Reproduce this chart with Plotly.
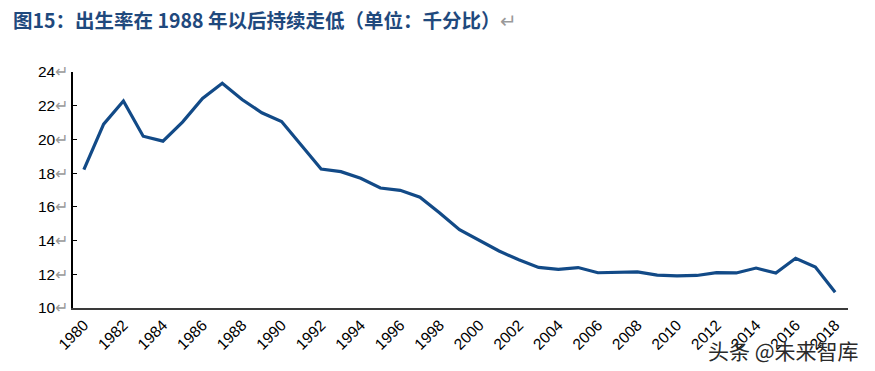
import plotly.graph_objects as go

years = list(range(1980, 2019))
birth_rate = [18.21, 20.91, 22.28, 20.19, 19.90, 21.04, 22.43, 23.33, 22.37, 21.58,
              21.06, 19.68, 18.24, 18.09, 17.70, 17.12, 16.98, 16.57, 15.64, 14.64,
              14.03, 13.38, 12.86, 12.41, 12.29, 12.40, 12.09, 12.10, 12.14, 11.95,
              11.90, 11.93, 12.10, 12.08, 12.37, 12.07, 12.95, 12.43, 10.94]

x_ticks = list(range(1980, 2019, 2))
x_ticklabels = [str(y) for y in x_ticks]
y_ticks = [10, 12, 14, 16, 18, 20, 22, 24]
y_ticklabels = [f"{v}<span style='color:#9a9a9a'>↵</span>" for v in y_ticks]

title_text = "图15：出生率在 1988 年以后持续走低（单位：千分比）<span style='color:#9a9a9a;font-weight:normal'>↵</span>"
watermark = "头条 @未来智库"

fig = go.Figure()
fig.add_trace(go.Scatter(
    x=years, y=birth_rate, mode="lines",
    line=dict(color="#124a87", width=3.2),
    hoverinfo="skip", showlegend=False,
))

L, R, T, B, W, H = 73, 27, 72, 63, 875, 371
pw = W - L - R
ph = H - T - B

def px(x):
    return (x - L) / pw

def py(y):
    return (H - B - y) / ph

fig.update_layout(
    width=W, height=H,
    margin=dict(l=L, r=R, t=T, b=B),
    paper_bgcolor="white", plot_bgcolor="white",
    font=dict(family="Liberation Sans, Arial, sans-serif", color="#000"),
    xaxis=dict(
        range=[1979.45, 2018.65],
        tickmode="array", tickvals=x_ticks, ticktext=x_ticklabels,
        tickangle=-45, tickfont=dict(size=15.5, color="#000"),
        showgrid=False, zeroline=False,
        showline=True, linecolor="#3a3a3a", linewidth=2,
        ticks="",
    ),
    yaxis=dict(
        range=[10, 24],
        tickmode="array", tickvals=y_ticks, ticktext=y_ticklabels,
        tickfont=dict(size=15.5, color="#000"),
        showgrid=False, zeroline=False,
        showline=True, linecolor="#000", linewidth=1.5,
        ticks="inside", ticklen=4, tickcolor="#000", tickwidth=1.2,
    ),
    annotations=[
        dict(text="<b>" + title_text + "</b>", x=px(11), y=py(20),
             xref="paper", yref="paper",
             showarrow=False, xanchor="left", yanchor="middle",
             font=dict(size=19.5, color="#1f497d",
                       family="Noto Sans CJK SC, Liberation Sans, sans-serif")),
        dict(text=watermark, x=px(783), y=py(350),
             xref="paper", yref="paper", showarrow=False,
             xanchor="center", yanchor="middle",
             font=dict(size=21, color="#2a2a2a",
                       family="Noto Sans CJK SC, sans-serif")),
    ],
)

fig.write_html("out.html")
